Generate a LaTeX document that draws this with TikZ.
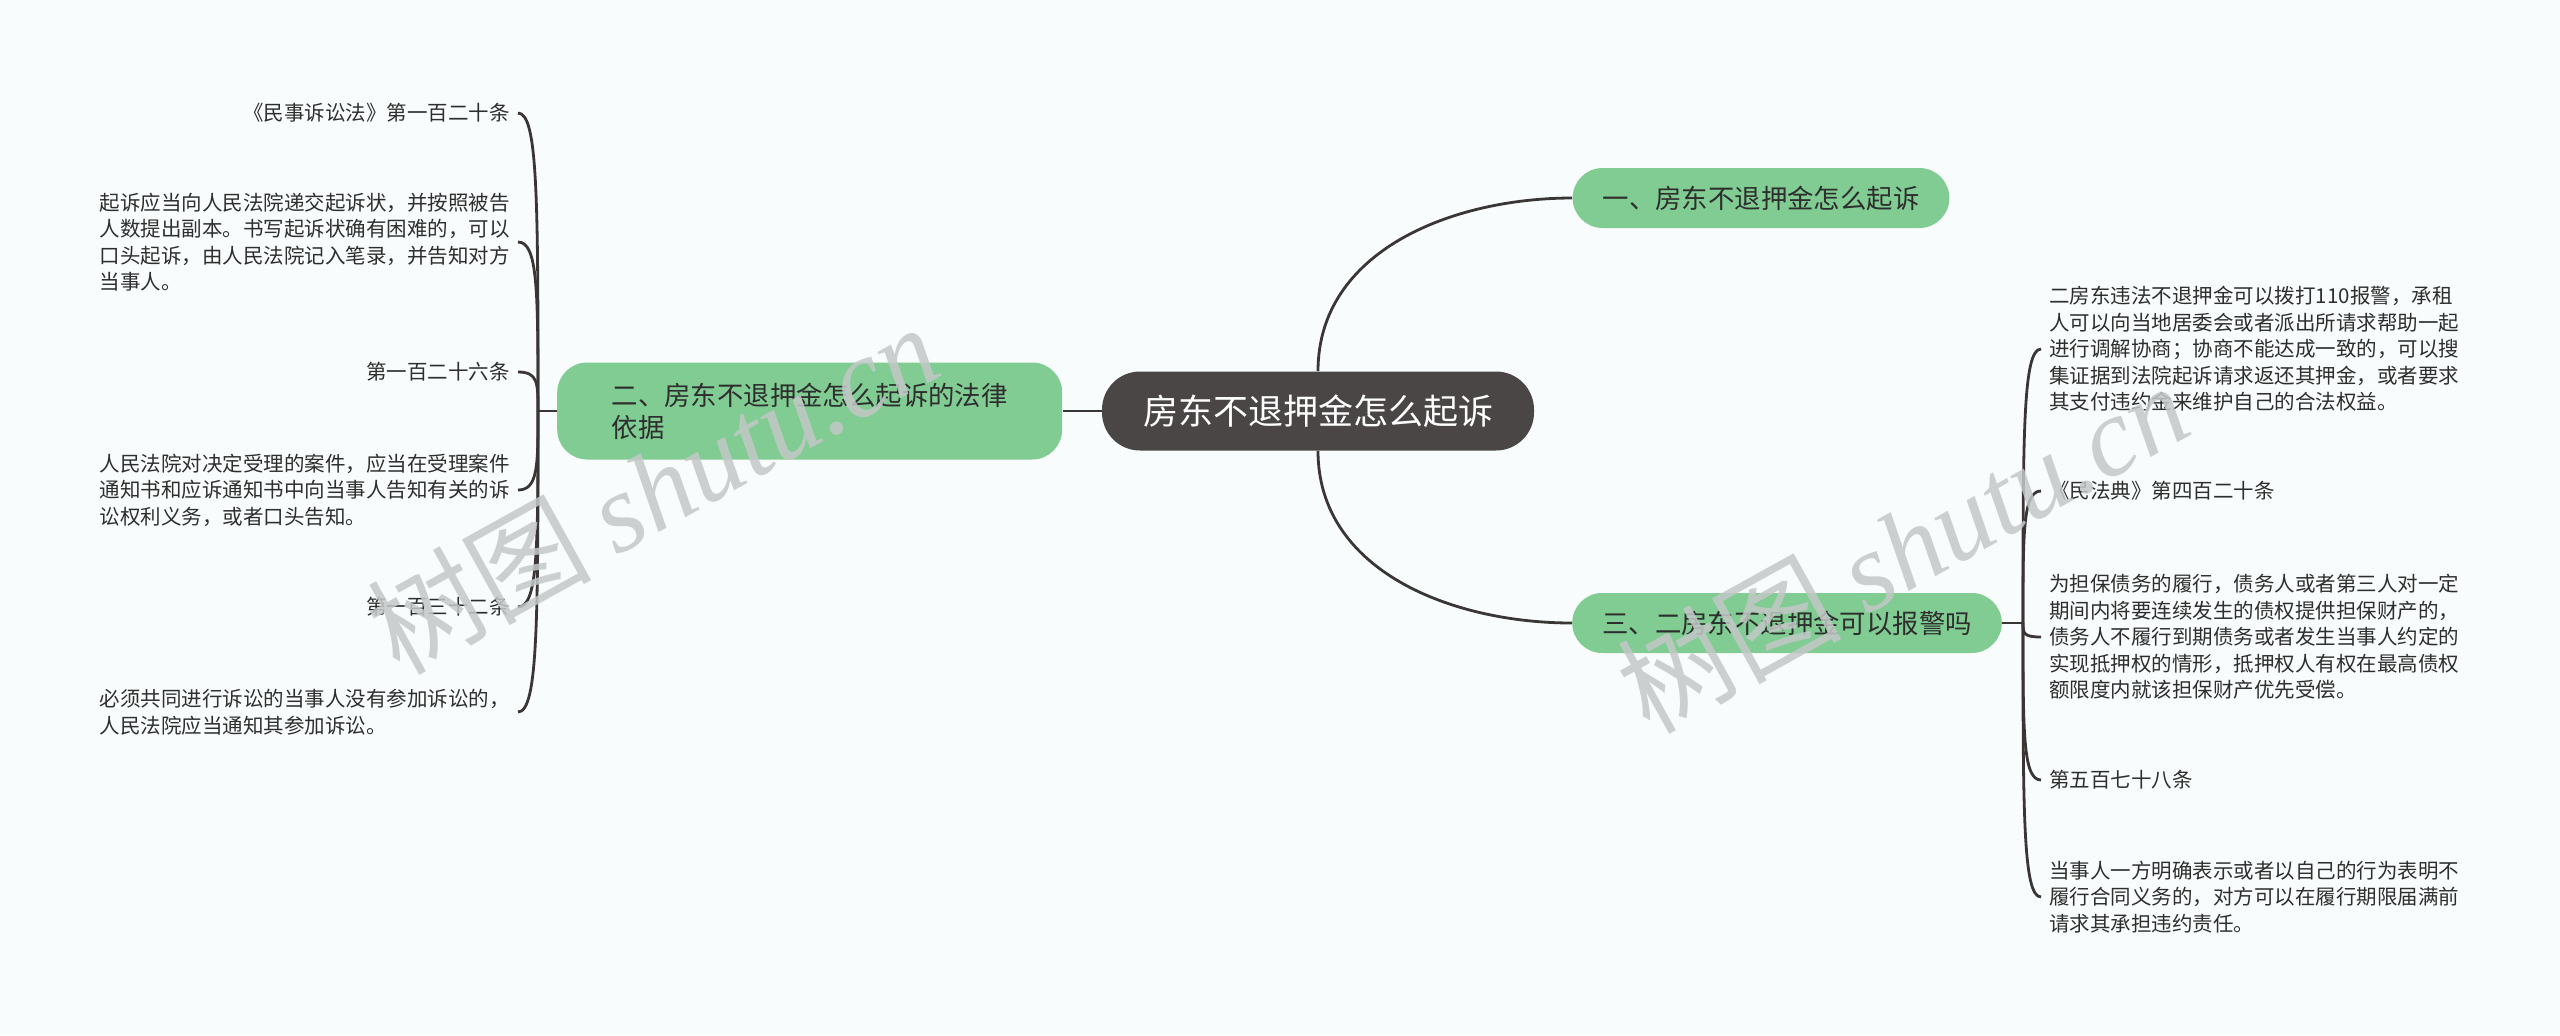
\documentclass[tikz,border=0pt]{standalone}
\usepackage{fontspec}
\setmainfont{Noto Sans CJK SC}
\newfontfamily\markfont{Liberation Serif}
\usetikzlibrary{positioning}

\definecolor{rootgray}{HTML}{4A4646}
\definecolor{branchgreen}{HTML}{80CC92}
\definecolor{linegray}{HTML}{3B3636}
\definecolor{leaftext}{HTML}{2E2E2E}
\definecolor{paper}{HTML}{F9FCFC}
\definecolor{markgray}{HTML}{C4C8C8}

\begin{document}
\begin{tikzpicture}[
    x=0.5pt, y=-0.5pt,
    root/.style={rectangle, rounded corners=19pt, fill=rootgray, text=white, font=\fontsize{17.5}{21}\selectfont, inner xsep=20.5pt, minimum height=39.5pt},
    branch/.style={rectangle, rounded corners=15pt, fill=branchgreen, text=leaftext, font=\fontsize{13.2}{16}\selectfont, inner xsep=15pt, minimum height=30pt, align=left},
    leaf/.style={align=left, text=leaftext, font=\fontsize{10.25}{13.25}\selectfont, inner xsep=4pt, inner ysep=2pt},
    link/.style={draw=linegray, line width=1.4pt},
    wmark/.style={text=markgray, opacity=0.85, font=\fontsize{56}{60}\selectfont, rotate=29}
]
\useasboundingbox (0,0) rectangle (2560,1035);
\fill[paper] (0,0) rectangle (2560,1035);

% Center: main topic
\node[root] (root) at (1318,411) {房东不退押金怎么起诉};

% Branches
\node[branch] (b1) at (1761,198) {一、房东不退押金怎么起诉};
\node[branch, left=19.5pt of root, minimum width=252.5pt, minimum height=48.5pt] (b2) {二、房东不退押金怎么起诉的法律\\依据};
\node[branch] (b3) at (1787,623) {三、二房东不退押金可以报警吗};

% Left leaves
\node[leaf, anchor=east] (l1) at (518,113) {《民事诉讼法》第一百二十条};
\node[leaf, anchor=east] (l2) at (518,242) {起诉应当向人民法院递交起诉状，并按照被告\\人数提出副本。书写起诉状确有困难的，可以\\口头起诉，由人民法院记入笔录，并告知对方\\当事人。};
\node[leaf, anchor=east] (l3) at (518,372) {第一百二十六条};
\node[leaf, anchor=east] (l4) at (518,490) {人民法院对决定受理的案件，应当在受理案件\\通知书和应诉通知书中向当事人告知有关的诉\\讼权利义务，或者口头告知。};
\node[leaf, anchor=east] (l5) at (518,607) {第一百三十二条};
\node[leaf, anchor=east] (l6) at (518,712) {必须共同进行诉讼的当事人没有参加诉讼的，\\人民法院应当通知其参加诉讼。};

% Right leaves
\node[leaf, anchor=west] (r1) at (2041,349) {二房东违法不退押金可以拨打110报警，承租\\人可以向当地居委会或者派出所请求帮助一起\\进行调解协商；协商不能达成一致的，可以搜\\集证据到法院起诉请求返还其押金，或者要求\\其支付违约金来维护自己的合法权益。};
\node[leaf, anchor=west] (r2) at (2041,491) {《民法典》第四百二十条};
\node[leaf, anchor=west] (r3) at (2041,637) {为担保债务的履行，债务人或者第三人对一定\\期间内将要连续发生的债权提供担保财产的，\\债务人不履行到期债务或者发生当事人约定的\\实现抵押权的情形，抵押权人有权在最高债权\\额限度内就该担保财产优先受偿。};
\node[leaf, anchor=west] (r4) at (2041,780) {第五百七十八条};
\node[leaf, anchor=west] (r5) at (2041,897) {当事人一方明确表示或者以自己的行为表明不\\履行合同义务的，对方可以在履行期限届满前\\请求其承担违约责任。};

% Root to branches
\draw[link] (root.north) to[out=90, in=180] (b1.west);
\draw[link] (root.south) to[out=-90, in=180] (b3.west);
\draw[link] (root.west) -- (b2.east);

% Left spine
\coordinate (lspine) at (538,411);
\draw[link] (b2.west) -- (lspine);
\foreach \n/\d in {l1/-210, l2/-120, l3/-28, l4/55, l5/137, l6/210}
    \draw[link] (lspine) .. controls +(0,\d) and +(20,0) .. (\n.east);

% Right spine
\coordinate (rspine) at (2023,623);
\draw[link] (b3.east) -- (rspine);
\foreach \n/\d in {r1/-190, r2/-92, r3/10, r4/110, r5/190}
    \draw[link] (rspine) .. controls +(0,\d) and +(-18,0) .. (\n.west);

% Watermarks
\node[wmark] (wm1) at (652,488) {树图 {\markfont\itshape shutu.cn}};
\node[wmark] (wm2) at (1902,547) {树图 {\markfont\itshape shutu.cn}};

\end{tikzpicture}
\end{document}
